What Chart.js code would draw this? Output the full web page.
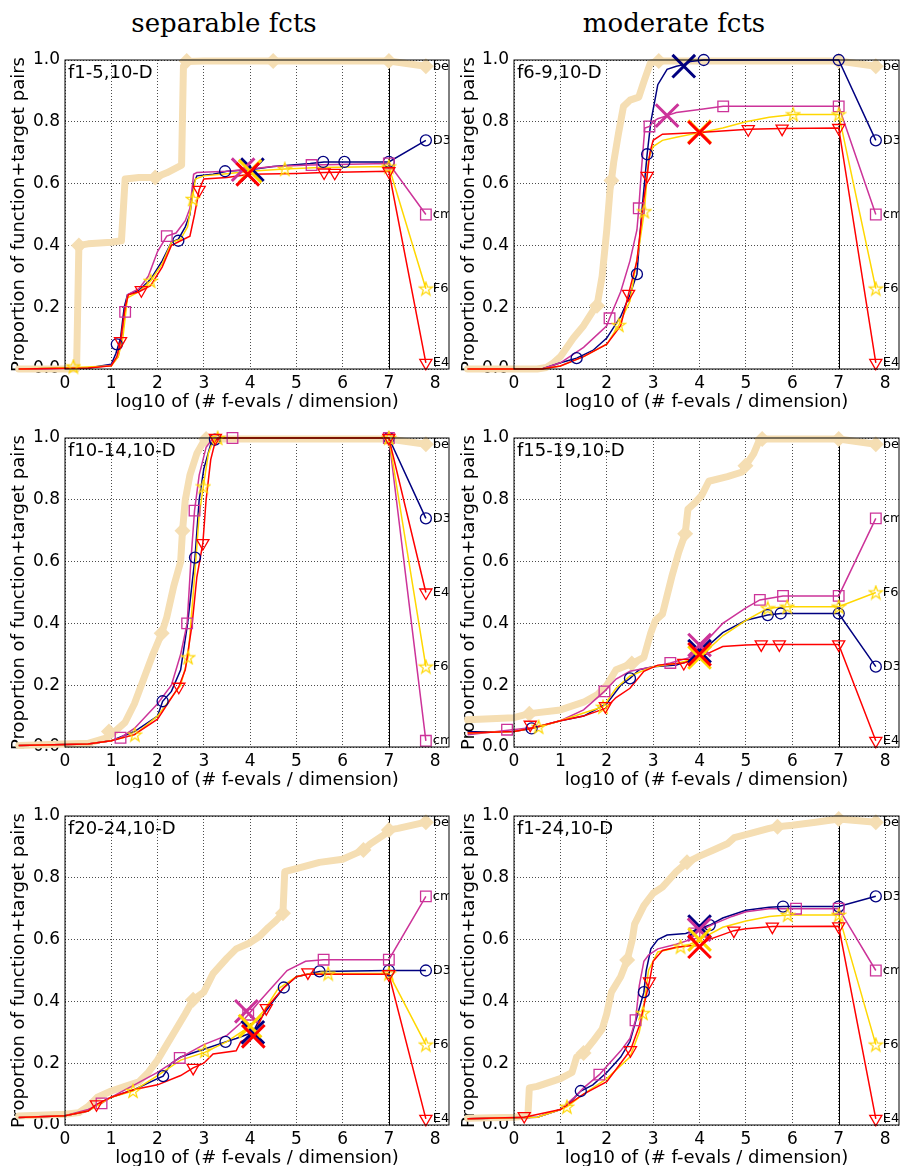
<!DOCTYPE html>
<html><head><meta charset="utf-8">
<script src="https://cdn.jsdelivr.net/npm/chart.js@4.4.1/dist/chart.umd.min.js"></script>
<style>
html,body{margin:0;padding:0;background:#fff;}
body{width:900px;height:1171px;position:relative;overflow:hidden;}
.ttl{position:absolute;top:10px;width:448px;text-align:center;font:26px 'DejaVu Serif',serif;line-height:26px;color:#000;}
canvas{position:absolute;}
</style></head>
<body>
<div class="ttl" style="left:0">separable fcts</div>
<div class="ttl" style="left:450px">moderate fcts</div>
<canvas id="c0" width="450" height="365" style="left:0;top:45px"></canvas>
<canvas id="c1" width="450" height="365" style="left:450px;top:45px"></canvas>
<canvas id="c2" width="450" height="365" style="left:0;top:423px"></canvas>
<canvas id="c3" width="450" height="365" style="left:450px;top:423px"></canvas>
<canvas id="c4" width="450" height="365" style="left:0;top:801px"></canvas>
<canvas id="c5" width="450" height="365" style="left:450px;top:801px"></canvas>
<script>
// ---------- data ----------
const xTickValues = [0,1,2,3,4,5,6,7,8];
const yTickValues = [0,0.2,0.4,0.6,0.8,1.0];
const panelLabels = ['f1-5,10-D','f6-9,10-D','f10-14,10-D','f15-19,10-D','f20-24,10-D','f1-24,10-D'];
const seriesNames = ['bes','D3','cm','F6','E4'];
const xLabel = 'log10 of (# f-evals / dimension)';
const yLabel = 'Proportion of function+target pairs';

// panel 1: f1-5
const P1_best = [[-1,0],[0.25,0],[0.3,0.4],[0.5,0.405],[1.0,0.41],[1.22,0.415],[1.3,0.615],[1.6,0.62],[1.95,0.62],[2.2,0.635],[2.52,0.66],[2.56,0.98],[2.63,0.995],[3.0,0.997],[7.0,0.997],[7.8,0.98]];
const P1_best_m = [[0.3,0.4],[1.95,0.62],[2.63,0.997],[4.5,0.997],[7.0,0.997],[7.8,0.98]];
const P1_D3 = [[-1,0],[0.5,0.003],[1.0,0.015],[1.1,0.05],[1.2,0.1],[1.28,0.2],[1.35,0.24],[1.6,0.255],[1.85,0.29],[2.1,0.35],[2.3,0.41],[2.45,0.42],[2.6,0.46],[2.7,0.5],[2.78,0.6],[2.85,0.625],[3.2,0.63],[3.5,0.64],[4.0,0.645],[4.5,0.655],[5.3,0.665],[5.6,0.67],[7.0,0.67],[7.8,0.74]];
const P1_D3_m = [[1.12,0.08],[2.45,0.415],[3.46,0.64],[5.58,0.67],[6.04,0.67],[7.0,0.67],[7.8,0.74]];
const P1_cm = [[-1,0],[0.5,0.003],[1.0,0.012],[1.15,0.04],[1.25,0.12],[1.3,0.185],[1.35,0.24],[1.6,0.26],[1.8,0.3],[2.0,0.38],[2.2,0.43],[2.4,0.44],[2.6,0.48],[2.7,0.52],[2.78,0.63],[2.85,0.636],[3.5,0.64],[3.85,0.645],[4.5,0.655],[5.3,0.66],[7.0,0.665],[7.8,0.5]];
const P1_cm_m = [[1.3,0.185],[2.2,0.43],[5.33,0.66],[7.0,0.665],[7.8,0.5]];
const P1_F6 = [[-1,0],[0.2,0.005],[1.0,0.01],[1.15,0.04],[1.25,0.1],[1.35,0.23],[1.6,0.25],[1.85,0.285],[2.1,0.34],[2.3,0.41],[2.5,0.42],[2.65,0.46],[2.75,0.55],[2.82,0.615],[3.0,0.625],[3.5,0.632],[4.0,0.64],[4.75,0.647],[5.5,0.652],[7.0,0.655],[7.8,0.26]];
const P1_F6_m = [[0.18,0.008],[1.85,0.285],[2.76,0.55],[4.75,0.647],[7.0,0.655],[7.8,0.26]];
const P1_E4 = [[-1,0],[0.5,0.003],[1.0,0.01],[1.12,0.04],[1.2,0.09],[1.3,0.2],[1.37,0.24],[1.6,0.25],[1.85,0.27],[2.1,0.33],[2.3,0.4],[2.5,0.415],[2.7,0.43],[2.8,0.5],[2.9,0.58],[3.0,0.615],[3.5,0.62],[4.0,0.63],[5.0,0.633],[5.6,0.636],[7.0,0.64],[7.8,0.02]];
const P1_E4_m = [[1.2,0.09],[1.65,0.255],[2.9,0.58],[5.6,0.636],[5.83,0.635],[7.0,0.64],[7.8,0.02]];
const P1_X = [[4.05,0.645],[3.85,0.645],[4.0,0.64],[3.95,0.63]];

// panel 2: f6-9
const P2_best = [[-1,0],[0.5,0],[0.7,0.005],[0.85,0.02],[1.0,0.04],[1.28,0.1],[1.5,0.14],[1.71,0.19],[1.79,0.205],[1.9,0.3],[2.0,0.45],[2.07,0.58],[2.1,0.61],[2.15,0.67],[2.25,0.76],[2.36,0.85],[2.5,0.87],[2.69,0.88],[2.8,0.93],[2.94,0.99],[3.12,0.997],[7.0,0.997],[7.8,0.98]];
const P2_best_m = [[1.79,0.205],[2.1,0.61],[3.12,0.997],[7.0,0.997],[7.8,0.98]];
const P2_D3 = [[-1,0],[0.6,0],[1.0,0.02],[1.35,0.035],[1.7,0.06],[2.0,0.1],[2.3,0.17],[2.5,0.24],[2.65,0.307],[2.75,0.5],[2.87,0.695],[2.95,0.8],[3.1,0.92],[3.3,0.97],[3.5,0.98],[3.66,0.985],[3.8,0.995],[4.09,1.0],[7.0,1.0],[7.8,0.74]];
const P2_D3_m = [[1.35,0.035],[2.65,0.307],[2.87,0.695],[4.09,1.0],[7.0,1.0],[7.8,0.74]];
const P2_cm = [[-1,0],[0.6,0],[1.0,0.02],[1.5,0.07],[2.0,0.14],[2.06,0.164],[2.3,0.25],[2.5,0.35],[2.65,0.45],[2.69,0.52],[2.75,0.65],[2.82,0.78],[2.92,0.785],[3.0,0.8],[3.1,0.81],[3.3,0.82],[3.5,0.83],[4.0,0.84],[4.51,0.85],[7.0,0.85],[7.8,0.5]];
const P2_cm_m = [[2.06,0.164],[2.69,0.52],[2.92,0.785],[4.51,0.85],[7.0,0.85],[7.8,0.5]];
const P2_F6 = [[-1,0],[0.6,0],[1.0,0.01],[1.5,0.04],[2.0,0.08],[2.26,0.142],[2.5,0.22],[2.7,0.4],[2.81,0.51],[2.9,0.68],[3.0,0.72],[3.2,0.74],[3.5,0.75],[4.0,0.765],[4.5,0.78],[5.0,0.8],[5.5,0.815],[6.02,0.824],[7.0,0.824],[7.8,0.26]];
const P2_F6_m = [[2.26,0.142],[2.81,0.51],[6.02,0.824],[7.0,0.824],[7.8,0.26]];
const P2_E4 = [[-1,0],[0.6,0],[1.0,0.01],[1.5,0.04],[2.0,0.08],[2.3,0.14],[2.47,0.243],[2.65,0.35],[2.8,0.55],[2.87,0.625],[2.93,0.7],[3.0,0.74],[3.2,0.76],[4.0,0.765],[5.05,0.776],[5.78,0.778],[7.0,0.78],[7.8,0.02]];
const P2_E4_m = [[2.47,0.243],[2.87,0.625],[5.05,0.776],[5.78,0.778],[7.0,0.78],[7.8,0.02]];
const P2_X = [[3.66,0.98],[3.3,0.82],[4.0,0.768],[4.0,0.765]];

// panel 3: f10-14
const P3_best = [[-1,0.005],[0.5,0.012],[0.9,0.03],[1.0,0.04],[1.3,0.08],[1.5,0.14],[1.7,0.22],[1.9,0.3],[2.09,0.368],[2.2,0.42],[2.35,0.52],[2.5,0.6],[2.54,0.7],[2.6,0.8],[2.7,0.88],[2.85,0.95],[3.0,0.99],[3.05,0.997],[7.0,0.997],[7.8,0.98]];
const P3_best_m = [[0.95,0.05],[2.09,0.368],[2.54,0.7],[3.05,0.997],[7.0,0.997],[7.8,0.98]];
const P3_D3 = [[-1,0.005],[0.5,0.01],[1.0,0.02],[1.5,0.05],[2.0,0.1],[2.11,0.148],[2.3,0.18],[2.5,0.25],[2.65,0.4],[2.81,0.613],[2.9,0.8],[3.0,0.9],[3.15,0.98],[3.24,0.995],[3.4,1.0],[7.0,1.0],[7.8,0.74]];
const P3_D3_m = [[2.11,0.148],[2.81,0.613],[3.24,0.995],[7.0,1.0],[7.8,0.74]];
const P3_cm = [[-1,0.005],[0.5,0.01],[1.0,0.02],[1.2,0.03],[1.5,0.06],[2.0,0.14],[2.3,0.2],[2.5,0.3],[2.64,0.4],[2.72,0.6],[2.8,0.765],[2.9,0.88],[3.05,0.97],[3.2,1.0],[3.62,1.0],[7.0,1.0],[7.8,0.02]];
const P3_cm_m = [[1.2,0.03],[2.64,0.40],[2.8,0.765],[3.62,1.0],[7.0,1.0],[7.8,0.02]];
const P3_F6 = [[-1,0.005],[0.5,0.01],[1.0,0.02],[1.51,0.04],[2.0,0.1],[2.5,0.2],[2.66,0.29],[2.8,0.55],[2.9,0.75],[2.99,0.843],[3.1,0.95],[3.2,0.99],[3.3,1.0],[7.0,1.0],[7.8,0.26]];
const P3_F6_m = [[1.51,0.04],[2.66,0.29],[2.99,0.843],[3.3,1.0],[7.0,1.0],[7.8,0.26]];
const P3_E4 = [[-1,0.005],[0.5,0.01],[1.0,0.02],[1.5,0.04],[2.0,0.09],[2.46,0.195],[2.6,0.25],[2.75,0.4],[2.85,0.55],[2.98,0.66],[3.05,0.8],[3.15,0.93],[3.25,0.99],[3.3,1.0],[7.0,1.0],[7.8,0.5]];
const P3_E4_m = [[2.46,0.195],[2.98,0.66],[3.25,1.0],[7.0,1.0],[7.8,0.5]];
const P3_X = null;

// panel 4: f15-19
const P4_best = [[-1,0.088],[0,0.095],[0.33,0.108],[1.0,0.12],[1.5,0.145],[1.8,0.17],[2.0,0.2],[2.2,0.25],[2.54,0.27],[2.8,0.29],[2.95,0.37],[3.05,0.41],[3.2,0.43],[3.4,0.55],[3.55,0.63],[3.69,0.69],[3.75,0.77],[3.9,0.79],[4.05,0.815],[4.2,0.86],[4.6,0.875],[4.92,0.89],[4.99,0.91],[5.17,0.95],[5.28,0.99],[5.35,0.997],[7.0,0.997],[7.8,0.98]];
const P4_best_m = [[0.33,0.108],[2.54,0.27],[3.69,0.69],[4.99,0.91],[5.35,0.997],[7.0,0.997],[7.8,0.98]];
const P4_D3 = [[-1,0.049],[0,0.05],[0.38,0.06],[1.0,0.085],[1.5,0.1],[2.0,0.14],[2.3,0.2],[2.5,0.222],[2.7,0.25],[3.0,0.26],[3.5,0.265],[3.8,0.28],[4.0,0.31],[4.2,0.33],[4.5,0.37],[5.0,0.41],[5.47,0.427],[5.75,0.432],[7.0,0.432],[7.8,0.26]];
const P4_D3_m = [[0.38,0.06],[2.5,0.222],[5.47,0.427],[5.75,0.432],[7.0,0.432],[7.8,0.26]];
const P4_cm = [[-1,0.04],[0.5,0.065],[1.0,0.085],[1.5,0.12],[1.95,0.18],[2.2,0.22],[2.5,0.245],[3.0,0.26],[3.37,0.272],[3.8,0.29],[4.0,0.32],[4.5,0.4],[5.0,0.45],[5.3,0.476],[5.8,0.489],[7.0,0.489],[7.8,0.74]];
const P4_cm_m = [[-0.15,0.056],[1.95,0.18],[3.37,0.272],[5.3,0.476],[5.8,0.489],[7.0,0.489],[7.8,0.74]];
const P4_F6 = [[-1,0.045],[0,0.05],[0.53,0.065],[1.0,0.085],[1.5,0.11],[1.92,0.13],[2.2,0.19],[2.5,0.23],[3.0,0.26],[3.5,0.27],[4.0,0.29],[4.5,0.36],[5.0,0.41],[5.47,0.449],[5.89,0.454],[7.0,0.454],[7.8,0.5]];
const P4_F6_m = [[0.53,0.065],[1.92,0.13],[5.47,0.449],[5.89,0.454],[7.0,0.454],[7.8,0.5]];
const P4_E4 = [[-1,0.045],[0,0.05],[0.35,0.06],[1.0,0.085],[1.5,0.1],[1.97,0.125],[2.2,0.16],[2.5,0.19],[2.8,0.245],[3.1,0.265],[3.66,0.272],[4.0,0.29],[4.5,0.325],[5.0,0.33],[5.33,0.332],[5.72,0.332],[7.0,0.332],[7.8,0.02]];
const P4_E4_m = [[0.35,0.072],[1.97,0.132],[3.66,0.272],[5.33,0.332],[5.72,0.332],[7.0,0.332],[7.8,0.02]];
const P4_X = [[4.0,0.31],[4.0,0.33],[4.0,0.29],[4.0,0.30]];

// panel 5: f20-24
const P5_best = [[-1,0.029],[0,0.035],[0.3,0.04],[0.5,0.06],[0.7,0.09],[1.0,0.11],[1.3,0.125],[1.6,0.14],[1.8,0.17],[2.0,0.21],[2.2,0.26],[2.4,0.31],[2.6,0.36],[2.77,0.405],[3.0,0.43],[3.2,0.49],[3.5,0.54],[3.7,0.57],[4.0,0.59],[4.2,0.61],[4.4,0.64],[4.55,0.66],[4.71,0.685],[4.75,0.82],[5.0,0.83],[5.5,0.85],[6.0,0.86],[6.3,0.88],[6.45,0.89],[6.6,0.91],[6.9,0.94],[7.0,0.955],[7.2,0.96],[7.8,0.98]];
const P5_best_m = [[2.77,0.405],[4.71,0.685],[6.45,0.89],[7.0,0.955],[7.8,0.98]];
const P5_D3 = [[-1,0.024],[0,0.03],[0.5,0.045],[0.8,0.075],[1.0,0.09],[1.5,0.115],[2.0,0.15],[2.12,0.158],[2.3,0.2],[2.5,0.22],[3.0,0.245],[3.47,0.269],[3.7,0.28],[4.06,0.3],[4.2,0.34],[4.5,0.4],[4.73,0.445],[5.0,0.48],[5.5,0.497],[7.0,0.5],[7.8,0.5]];
const P5_D3_m = [[2.12,0.158],[3.47,0.269],[4.73,0.445],[5.5,0.497],[7.0,0.5],[7.8,0.5]];
const P5_cm = [[-1,0.024],[0,0.03],[0.5,0.05],[0.79,0.07],[1.0,0.09],[1.5,0.13],[2.0,0.17],[2.48,0.217],[3.0,0.26],[3.5,0.29],[3.8,0.33],[3.96,0.357],[4.2,0.4],[4.5,0.45],[4.8,0.5],[5.2,0.53],[5.59,0.535],[7.0,0.535],[7.8,0.74]];
const P5_cm_m = [[0.79,0.07],[2.48,0.217],[3.96,0.357],[5.59,0.535],[7.0,0.535],[7.8,0.74]];
const P5_F6 = [[-1,0.024],[0,0.03],[0.5,0.045],[1.0,0.09],[1.47,0.11],[2.0,0.16],[2.5,0.21],[3.02,0.235],[3.5,0.27],[3.8,0.3],[4.0,0.32],[4.3,0.37],[4.6,0.44],[5.0,0.48],[5.3,0.49],[5.69,0.49],[7.0,0.49],[7.8,0.26]];
const P5_F6_m = [[1.47,0.11],[3.02,0.24],[5.69,0.49],[7.0,0.49],[7.8,0.26]];
const P5_E4 = [[-1,0.024],[0,0.03],[0.5,0.045],[0.68,0.067],[1.0,0.09],[1.5,0.115],[2.0,0.13],[2.5,0.16],[2.77,0.185],[3.0,0.2],[3.2,0.23],[3.7,0.24],[3.8,0.27],[4.07,0.29],[4.35,0.378],[4.7,0.44],[5.0,0.48],[5.25,0.488],[7.0,0.488],[7.8,0.02]];
const P5_E4_m = [[0.68,0.067],[2.77,0.185],[4.35,0.378],[5.25,0.494],[7.0,0.488],[7.8,0.02]];
const P5_X = [[4.06,0.3],[3.92,0.368],[4.0,0.32],[4.07,0.287]];

// panel 6: f1-24
const P6_best = [[-1,0.022],[0,0.025],[0.3,0.03],[0.33,0.12],[0.5,0.125],[1.0,0.15],[1.25,0.17],[1.35,0.22],[1.5,0.233],[1.7,0.27],[1.9,0.31],[2.0,0.36],[2.1,0.43],[2.3,0.48],[2.44,0.534],[2.55,0.6],[2.6,0.65],[2.8,0.71],[3.0,0.75],[3.2,0.77],[3.5,0.82],[3.73,0.85],[4.0,0.87],[4.3,0.89],[4.6,0.91],[4.75,0.93],[5.0,0.94],[5.5,0.96],[5.68,0.965],[6.0,0.97],[6.5,0.98],[7.0,0.99],[7.8,0.98]];
const P6_best_m = [[1.5,0.233],[2.44,0.534],[3.73,0.85],[5.68,0.965],[7.0,0.99],[7.8,0.98]];
const P6_D3 = [[-1,0.02],[0.5,0.025],[1.0,0.05],[1.25,0.08],[1.44,0.11],[1.7,0.13],[2.0,0.17],[2.3,0.22],[2.5,0.27],[2.65,0.35],[2.8,0.43],[2.85,0.5],[2.95,0.57],[3.1,0.6],[3.3,0.615],[3.7,0.62],[4.0,0.635],[4.22,0.647],[4.5,0.67],[5.0,0.695],[5.5,0.705],[5.8,0.707],[7.0,0.707],[7.8,0.74]];
const P6_D3_m = [[1.44,0.11],[2.8,0.43],[4.22,0.647],[5.8,0.707],[7.0,0.707],[7.8,0.74]];
const P6_cm = [[-1,0.02],[0.5,0.025],[1.0,0.05],[1.3,0.09],[1.5,0.12],[1.84,0.163],[2.0,0.19],[2.3,0.24],[2.5,0.28],[2.62,0.339],[2.7,0.45],[2.8,0.53],[2.9,0.55],[3.1,0.57],[3.5,0.585],[3.8,0.6],[3.89,0.62],[4.3,0.65],[4.7,0.675],[5.0,0.69],[5.5,0.7],[6.08,0.7],[7.0,0.7],[7.8,0.5]];
const P6_cm_m = [[1.84,0.163],[2.62,0.339],[3.89,0.62],[6.08,0.7],[7.0,0.7],[7.8,0.5]];
const P6_F6 = [[-1,0.02],[0.5,0.025],[1.0,0.05],[1.14,0.059],[1.5,0.1],[2.0,0.15],[2.5,0.22],[2.7,0.3],[2.78,0.362],[2.9,0.5],[3.1,0.56],[3.59,0.577],[3.8,0.585],[4.0,0.6],[4.5,0.64],[5.0,0.66],[5.5,0.675],[5.9,0.68],[7.0,0.68],[7.8,0.26]];
const P6_F6_m = [[1.14,0.059],[2.78,0.362],[3.59,0.577],[5.9,0.68],[7.0,0.68],[7.8,0.26]];
const P6_E4 = [[-1,0.02],[0.22,0.025],[1.0,0.05],[1.5,0.1],[2.0,0.14],[2.3,0.2],[2.51,0.242],[2.7,0.32],[2.92,0.465],[3.0,0.53],[3.2,0.565],[3.5,0.575],[3.8,0.58],[4.0,0.58],[4.2,0.6],[4.74,0.629],[5.0,0.635],[5.57,0.642],[7.0,0.643],[7.8,0.02]];
const P6_E4_m = [[0.22,0.029],[2.51,0.242],[2.92,0.465],[4.74,0.629],[5.57,0.642],[7.0,0.643],[7.8,0.02]];
const P6_X = [[4.0,0.642],[3.99,0.632],[4.0,0.6],[4.0,0.577]];

const panelCurves = [
  [P1_best,P1_D3,P1_cm,P1_F6,P1_E4],[P2_best,P2_D3,P2_cm,P2_F6,P2_E4],
  [P3_best,P3_D3,P3_cm,P3_F6,P3_E4],[P4_best,P4_D3,P4_cm,P4_F6,P4_E4],
  [P5_best,P5_D3,P5_cm,P5_F6,P5_E4],[P6_best,P6_D3,P6_cm,P6_F6,P6_E4]];
const panelMarks = [
  [P1_best_m,P1_D3_m,P1_cm_m,P1_F6_m,P1_E4_m],[P2_best_m,P2_D3_m,P2_cm_m,P2_F6_m,P2_E4_m],
  [P3_best_m,P3_D3_m,P3_cm_m,P3_F6_m,P3_E4_m],[P4_best_m,P4_D3_m,P4_cm_m,P4_F6_m,P4_E4_m],
  [P5_best_m,P5_D3_m,P5_cm_m,P5_F6_m,P5_E4_m],[P6_best_m,P6_D3_m,P6_cm_m,P6_F6_m,P6_E4_m]];
const panelCrosses = [P1_X,P2_X,P3_X,P4_X,P5_X,P6_X];

const X_MIN = 0, X_MAX = 8.3, Y_MIN = 0, Y_MAX = 1.0;

// ---------- styles ----------
const BEST_COLOR = '#f5deb3';
const algColors = ['#000080','#cc3399','#ffd700','#ff0000'];
function makeStar(color){
  const s = 16, c = document.createElement('canvas'); c.width = s; c.height = s;
  const g = c.getContext('2d'); const cx = s/2, cy = s/2 + 0.5, R = 7, r = R*0.4;
  g.beginPath();
  for (let i=0;i<10;i++){ const a = -Math.PI/2 + i*Math.PI/5; const rr = (i%2)? r : R; g.lineTo(cx+rr*Math.cos(a), cy+rr*Math.sin(a)); }
  g.closePath(); g.strokeStyle = color; g.lineWidth = 1.2; g.stroke();
  return c;
}
const starImg = makeStar(algColors[2]);
const markStyle = [
  {pointStyle:'circle', pointRadius:5.5, pointRotation:0},
  {pointStyle:'rect', pointRadius:7.5, pointRotation:0},
  {pointStyle:starImg, pointRadius:6, pointRotation:0},
  {pointStyle:'triangle', pointRadius:7, pointRotation:180}
];

const panelPlugin = {
  id: 'panelDeco',
  beforeDatasetsDraw(chart, args, opts) {
    const {ctx, chartArea: a, scales: {x}} = chart;
    const px = Math.round(x.getPixelForValue(7)) + 0.5;
    ctx.save(); ctx.strokeStyle = '#000'; ctx.lineWidth = 1;
    ctx.beginPath(); ctx.moveTo(px, a.top); ctx.lineTo(px, a.bottom); ctx.stroke();
    ctx.restore();
  },
  afterDatasetsDraw(chart, args, opts) {
    const {ctx, chartArea: a, scales: {x}} = chart;
    ctx.save();
    ctx.strokeStyle = '#000'; ctx.lineWidth = 1;
    ctx.strokeRect(a.left, a.top, a.right - a.left, a.bottom - a.top);
    ctx.fillStyle = '#000';
    ctx.font = "18px 'DejaVu Sans'"; ctx.textBaseline = 'alphabetic'; ctx.textAlign = 'left';
    ctx.fillText(opts.label, a.left + 3, a.top + 18);
    ctx.beginPath(); ctx.rect(a.left, a.top - 20, a.right - a.left, a.bottom - a.top + 40); ctx.clip();
    ctx.font = "13px 'DejaVu Sans'"; ctx.textBaseline = 'middle';
    const lx = x.getPixelForValue(7.95);
    chart.data.datasets.forEach((ds, i) => {
      if (!ds.endLabel) return;
      const meta = chart.getDatasetMeta(i);
      const el = meta.data[meta.data.length - 1];
      ctx.fillText(ds.endLabel, lx, el.y);
    });
    ctx.restore();
  }
};

function buildDatasets(p) {
  const ds = [];
  const curves = panelCurves[p], marks = panelMarks[p], crosses = panelCrosses[p];
  if (crosses) crosses.forEach((pt, k) => ds.push({
    data: [pt], showLine: false, pointStyle: 'crossRot', pointRadius: 16, pointBorderWidth: 3,
    pointBorderColor: algColors[k], pointBackgroundColor: 'rgba(0,0,0,0)', clip: false, order: 1 + (3 - k) * 0.01
  }));
  for (let k = 0; k < 4; k++) {
    ds.push(Object.assign({
      data: marks[k + 1], showLine: false, pointBorderColor: algColors[k], pointBorderWidth: 1.3,
      pointBackgroundColor: 'rgba(0,0,0,0)', clip: false, order: 2 + (3 - k) * 0.01
    }, markStyle[k]));
    ds.push({
      data: curves[k + 1], borderColor: algColors[k], borderWidth: 1.5, pointRadius: 0, tension: 0,
      clip: false, order: 3 + (3 - k) * 0.01, endLabel: seriesNames[k + 1]
    });
  }
  ds.push({
    data: marks[0], showLine: false, pointStyle: 'rectRot', pointRadius: 8, pointBorderWidth: 0,
    pointBackgroundColor: BEST_COLOR, pointBorderColor: BEST_COLOR, clip: false, order: 4
  });
  ds.push({
    data: curves[0], borderColor: BEST_COLOR, borderWidth: 7, pointRadius: 0, tension: 0,
    borderJoinStyle: 'round', borderCapStyle: 'round', clip: false, order: 5, endLabel: seriesNames[0]
  });
  return ds;
}

Chart.defaults.font.family = "'DejaVu Sans'";
Chart.defaults.color = '#000';

for (let p = 0; p < 6; p++) {
  const right = p % 2 === 1;
  new Chart(document.getElementById('c' + p), {
    type: 'line',
    data: { datasets: buildDatasets(p) },
    plugins: [panelPlugin],
    options: {
      responsive: false, animation: false, events: [], devicePixelRatio: 1,
      layout: { autoPadding: false, padding: { left: 0, right: 1, top: 15, bottom: 0 } },
      plugins: { legend: { display: false }, tooltip: { enabled: false }, panelDeco: { label: panelLabels[p] } },
      scales: {
        x: {
          type: 'linear', min: X_MIN, max: X_MAX,
          afterBuildTicks: s => { s.ticks = xTickValues.map(v => ({ value: v })); s.min = X_MIN; s.max = X_MAX; },
          afterFit: s => { s.height = 41; s.paddingLeft = 0; s.paddingRight = 0; },
          ticks: { font: { size: 17 }, padding: 4, maxRotation: 0, autoSkip: false, callback: v => String(v) },
          grid: { color: 'rgba(0,0,0,0.7)', lineWidth: 1, drawTicks: false },
          border: { display: false, dash: [1, 2] },
          title: { display: true, text: xLabel, font: { size: 18, lineHeight: 1 }, padding: { top: 0, bottom: -1 } }
        },
        y: {
          type: 'linear', min: Y_MIN, max: Y_MAX,
          afterBuildTicks: s => { s.ticks = yTickValues.map(v => ({ value: v })); s.min = Y_MIN; s.max = Y_MAX; },
          afterFit: s => { s.width = right ? 64 : 65; s.paddingTop = 0; s.paddingBottom = 0; },
          ticks: { font: { size: 17 }, padding: 5, callback: v => Number(v).toFixed(1) },
          grid: { color: 'rgba(0,0,0,0.7)', lineWidth: 1, drawTicks: false },
          border: { display: false, dash: [1, 2] },
          title: { display: true, text: yLabel, font: { size: 18, lineHeight: 1 }, padding: { top: 10.3, bottom: 0 } }
        }
      }
    }
  });
}
</script>
</body></html>
